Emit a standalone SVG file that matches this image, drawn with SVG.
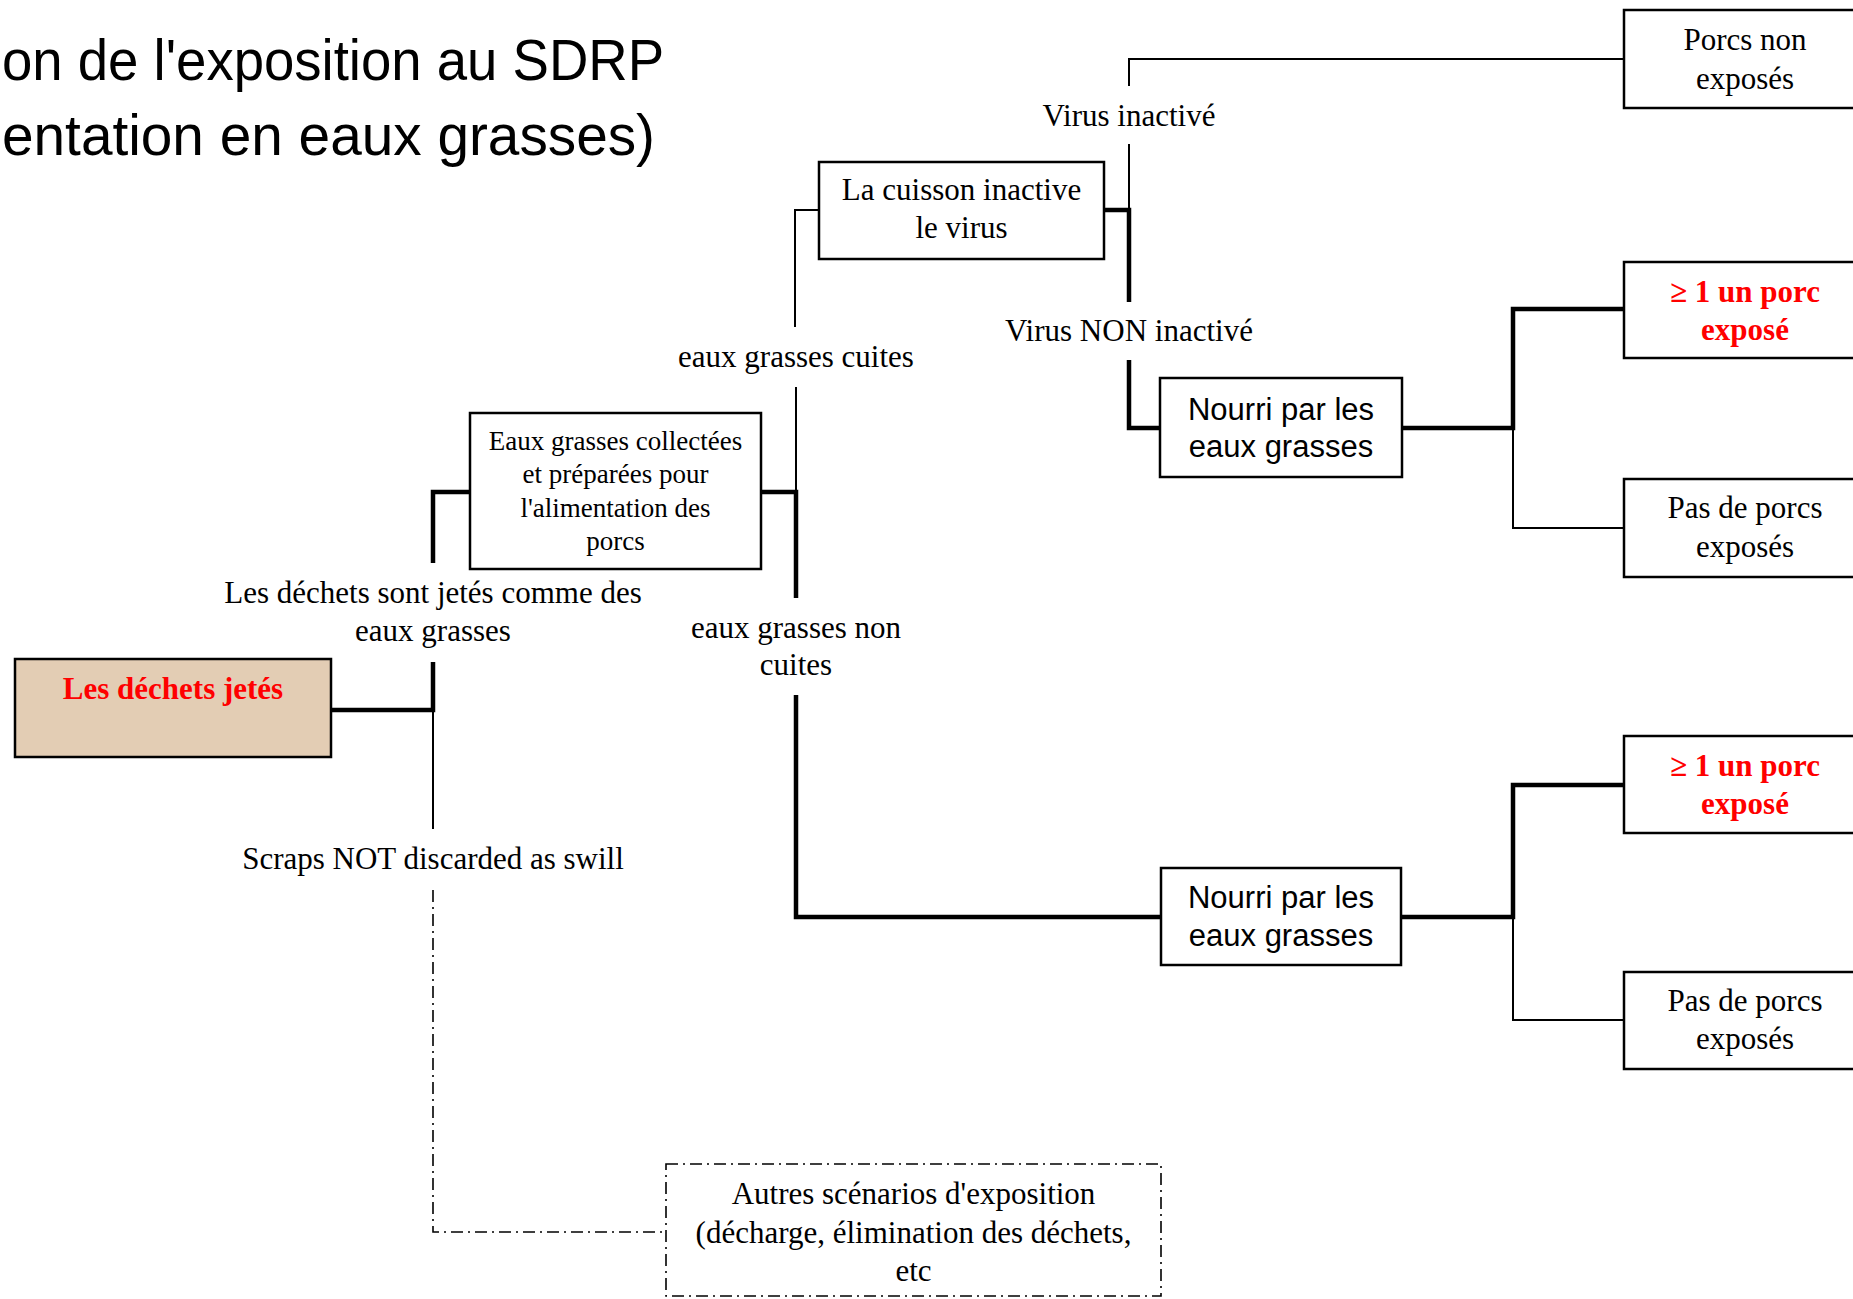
<svg xmlns="http://www.w3.org/2000/svg" width="1853" height="1299" viewBox="0 0 1853 1299">
<style>
.bg{fill:#fff}
.box{fill:#fff;stroke:#000;stroke-width:2.5}
.tan{fill:#E3CDB4}
.dd{fill:none;stroke:#000;stroke-width:1.6;stroke-dasharray:12 5 2 5}
.t{font-family:"Liberation Serif","Times New Roman",serif;font-size:31px;text-anchor:middle;fill:#000}
.sm{font-size:27px}
.red{fill:#FF0000;font-weight:bold}
.sans{font-family:"Liberation Sans",Arial,sans-serif;font-size:31px;text-anchor:middle;fill:#000}
.title{font-family:"Liberation Sans",Arial,sans-serif;font-size:58px;fill:#000}
.thin{fill:none;stroke:#000;stroke-width:2}
.thick{fill:none;stroke:#000;stroke-width:4.5}
</style>
<rect class="bg" x="0" y="0" width="1853" height="1299"/>
<g id="title">
<text class="title" x="2" y="80" textLength="662" lengthAdjust="spacingAndGlyphs">on de l'exposition au SDRP</text>
<text class="title" x="2" y="155" textLength="653" lengthAdjust="spacingAndGlyphs">entation en eaux grasses)</text>
</g>
<g id="connectors">
<path class="thin" d="M1129 86V59H1624"/>
<path class="thin" d="M1129 144V210"/>
<path class="thin" d="M819 210H795V327"/>
<path class="thin" d="M796 387V492"/>
<path class="thin" d="M433 710V829"/>
<path class="thin" d="M1513 428V528H1624"/>
<path class="thin" d="M1513 917V1020H1624"/>
<path class="thick" d="M1104 210H1129V302"/>
<path class="thick" d="M1129 360V428H1160"/>
<path class="thick" d="M1402 428H1513V309H1624"/>
<path class="thick" d="M761 492H796V598"/>
<path class="thick" d="M470 492H433V563"/>
<path class="thick" d="M433 662V710H331"/>
<path class="thick" d="M796 695V917H1161"/>
<path class="thick" d="M1401 917H1513V785H1624"/>
<path class="dd" d="M433 890V1232H666"/>
</g>
<g id="labels">
<text class="t" x="1129" y="126">Virus inactivé</text>
<text class="t" x="1129" y="341">Virus NON inactivé</text>
<text class="t" x="796" y="367">eaux grasses cuites</text>
<text class="t" x="796" y="638">eaux grasses non</text>
<text class="t" x="796" y="675">cuites</text>
<text class="t" x="433" y="603">Les déchets sont jetés comme des</text>
<text class="t" x="433" y="641">eaux grasses</text>
<text class="t" x="433" y="869">Scraps NOT discarded as swill</text>
</g>
<g id="n-dechets">
<rect class="box tan" x="15" y="659" width="316" height="98"/>
<text class="t red" x="173" y="699">Les déchets jetés</text>
</g>
<g id="n-collectees">
<rect class="box" x="470" y="413" width="291" height="156"/>
<text class="t sm" x="615.5" y="450">Eaux grasses collectées</text>
<text class="t sm" x="615.5" y="483">et préparées pour</text>
<text class="t sm" x="615.5" y="517">l'alimentation des</text>
<text class="t sm" x="615.5" y="550">porcs</text>
</g>
<g id="n-cuisson">
<rect class="box" x="819" y="162" width="285" height="97"/>
<text class="t" x="961.5" y="200">La cuisson inactive</text>
<text class="t" x="961.5" y="238">le virus</text>
</g>
<g id="n-nourri1">
<rect class="box" x="1160" y="378" width="242" height="99"/>
<text class="sans" x="1281" y="420">Nourri par les</text>
<text class="sans" x="1281" y="457">eaux grasses</text>
</g>
<g id="n-nourri2">
<rect class="box" x="1161" y="868" width="240" height="97"/>
<text class="sans" x="1281" y="908">Nourri par les</text>
<text class="sans" x="1281" y="946">eaux grasses</text>
</g>
<g id="n-nonexposes">
<rect class="box" x="1624" y="10" width="242" height="98"/>
<text class="t" x="1745" y="50">Porcs non</text>
<text class="t" x="1745" y="89">exposés</text>
</g>
<g id="n-expose1">
<rect class="box" x="1624" y="262" width="242" height="96"/>
<text class="t red" x="1745" y="302">≥ 1 un porc</text>
<text class="t red" x="1745" y="340">exposé</text>
</g>
<g id="n-pas1">
<rect class="box" x="1624" y="479" width="242" height="98"/>
<text class="t" x="1745" y="518">Pas de porcs</text>
<text class="t" x="1745" y="557">exposés</text>
</g>
<g id="n-expose2">
<rect class="box" x="1624" y="736" width="242" height="97"/>
<text class="t red" x="1745" y="776">≥ 1 un porc</text>
<text class="t red" x="1745" y="814">exposé</text>
</g>
<g id="n-pas2">
<rect class="box" x="1624" y="972" width="242" height="97"/>
<text class="t" x="1745" y="1011">Pas de porcs</text>
<text class="t" x="1745" y="1049">exposés</text>
</g>
<g id="n-autres">
<rect class="dd" x="666" y="1164" width="495" height="132"/>
<text class="t" x="913.5" y="1204">Autres scénarios d'exposition</text>
<text class="t" x="913.5" y="1243">(décharge, élimination des déchets,</text>
<text class="t" x="913.5" y="1281">etc</text>
</g>
</svg>
